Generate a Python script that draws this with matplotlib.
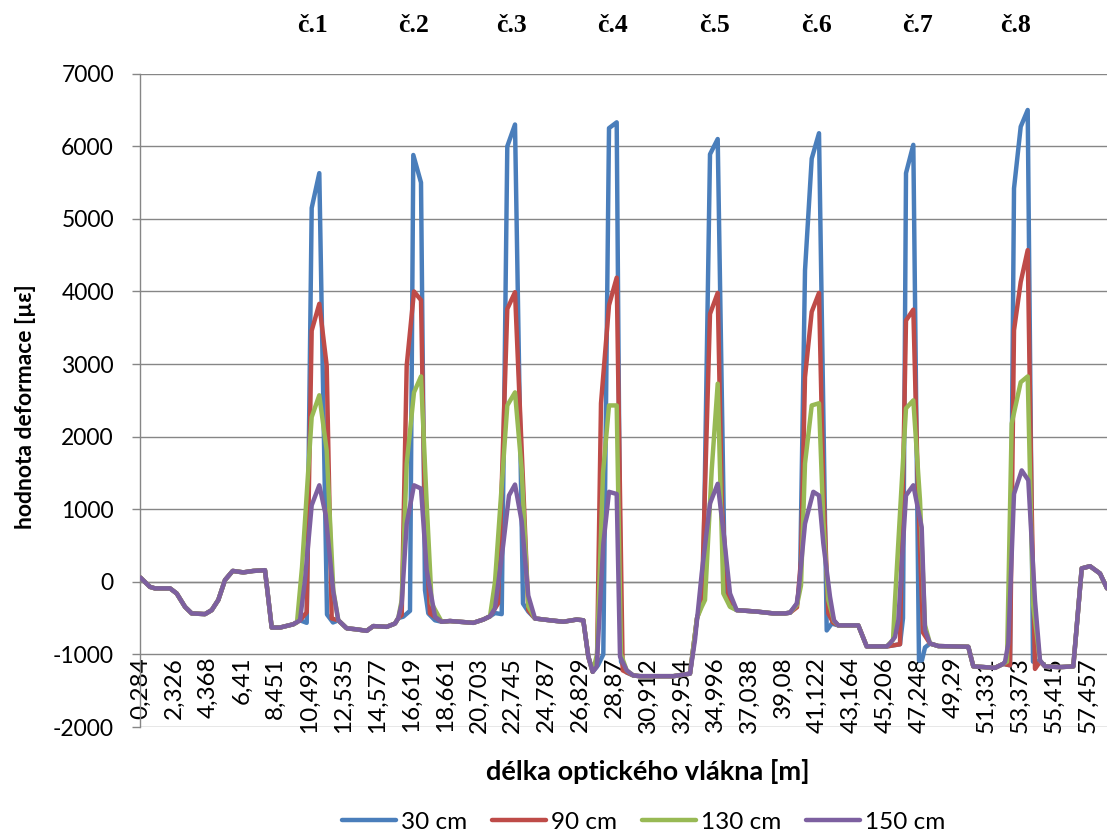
import matplotlib
matplotlib.use("Agg")
import matplotlib.pyplot as plt
from matplotlib.ticker import FixedLocator

plt.rcParams['font.family'] = ['Lato', 'DejaVu Sans']
plt.rcParams['axes.unicode_minus'] = False

# ---------------- data (distance in m, strain in µε) ----------------
series_names = ["30 cm", "90 cm", "130 cm", "150 cm"]
series_colors = ["#4A7EBB", "#BE4B48", "#98B954", "#7D60A0"]

tick_labels = ["0,284", "2,326", "4,368", "6,41", "8,451", "10,493", "12,535", "14,577",
               "16,619", "18,661", "20,703", "22,745", "24,787", "26,829", "28,87", "30,912",
               "32,954", "34,996", "37,038", "39,08", "41,122", "43,164", "45,206", "47,248",
               "49,29", "51,331", "53,373", "55,415", "57,457"]
tick_positions = [0.284 + 2.042 * i for i in range(len(tick_labels))]

peak_names = ["č.1", "č.2", "č.3", "č.4", "č.5", "č.6", "č.7", "č.8"]
peak_centres = [10.68, 16.77, 22.66, 28.75, 34.93, 41.05, 47.15, 53.1]

# common stretches between the loaded sections (all four curves overlap there)
gap_x = [
    [0.284, 0.869, 1.171, 2.076, 2.480, 2.981, 3.385, 4.188, 4.592, 4.990, 5.394, 5.859,
     6.498, 7.101, 7.807, 8.211, 8.712, 9.515],
    [12.229, 12.736, 13.339, 13.943, 14.341, 15.149, 15.650, 15.849],
    [18.467, 18.968, 20.374, 20.977, 21.382],
    [24.096, 25.001, 25.804, 26.612, 27.011, 27.312, 27.577],
    [30.027, 30.431, 32.440, 33.448],
    [36.265, 37.472, 38.473, 39.179, 39.481],
    [42.395, 43.601, 44.108, 45.315],
    [48.428, 50.238, 50.540, 51.848, 52.349],
    [54.865, 55.770, 56.572, 57.079, 57.580, 58.183, 58.605],
]
gap_y = [
    [60, -70, -90, -90, -160, -345, -435, -445, -390, -250, 25, 150, 130, 150, 160, -630, -630, -585],
    [-530, -640, -655, -675, -610, -620, -575, -500],
    [-550, -540, -565, -520, -475],
    [-505, -530, -550, -520, -530, -1030, -1240],
    [-1290, -1300, -1300, -1265],
    [-390, -410, -435, -435, -425],
    [-600, -600, -890, -890],
    [-885, -895, -1165, -1185, -1130],
    [-1165, -1175, -1165, 185, 215, 115, -90],
]

# 30 cm
blue_peak_x = [
    [9.919, 10.323, 10.624, 11.083, 11.548, 11.910],
    [16.151, 16.555, 16.754, 17.219, 17.460, 17.659, 18.063],
    [21.683, 22.087, 22.425, 22.890, 23.372, 23.692],
    [27.897, 28.217, 28.561, 29.025, 29.285, 29.629],
    [33.870, 34.232, 34.654, 35.119, 35.559, 35.861],
    [39.903, 40.084, 40.386, 40.790, 41.230, 41.695, 41.997],
    [46.117, 46.298, 46.479, 46.920, 47.263, 47.444, 47.625, 47.927],
    [52.753, 52.995, 53.399, 53.821, 54.141, 54.563],
]
blue_peak_y = [
    [-530, -565, 5150, 5630, -450, -560],
    [-480, -400, 5880, 5500, -115, -435, -530],
    [-430, -445, 6000, 6300, -300, -410],
    [-1150, -1000, 6250, 6330, -1100, -1250],
    [-500, -200, 5890, 6100, -160, -330],
    [-300, 0, 4290, 5830, 6180, -670, -575],
    [-860, -500, 5630, 6020, -1085, -1080, -905, -850],
    [-1150, 5420, 6270, 6500, -1100, -1085],
]

# 90 cm
red_peak_x = [
    [9.919, 10.323, 10.624, 11.083, 11.529, 11.831],
    [16.054, 16.356, 16.796, 17.219, 17.460, 17.761],
    [21.864, 22.425, 22.890, 23.391, 23.692],
    [27.837, 28.078, 28.561, 29.025, 29.387],
    [33.870, 34.154, 34.654, 35.119, 35.378, 35.758],
    [39.903, 40.144, 40.386, 40.790, 41.230, 41.490, 41.791, 42.075],
    [46.117, 46.479, 46.920, 47.221, 47.505, 47.927],
    [52.753, 52.995, 53.399, 53.821, 54.063, 54.262, 54.563],
]
red_peak_y = [
    [-530, -420, 3460, 3830, 2980, -505],
    [-460, 2980, 4000, 3880, 850, -435],
    [-300, 3760, 3990, 1290, -390],
    [-1100, 2460, 3810, 4190, -1220],
    [-500, -300, 3690, 3980, 1000, -200],
    [-350, 300, 2820, 3720, 3980, 1310, -435, -560],
    [-860, 3600, 3750, 1120, -700, -850],
    [-1150, 3465, 4130, 4570, 1000, -1200, -1100],
]

# 130 cm
green_peak_x = [
    [9.738, 10.040, 10.624, 11.083, 11.529, 11.928],
    [16.054, 16.356, 16.796, 17.219, 17.562, 17.864],
    [21.683, 22.425, 22.890, 23.294, 23.692],
    [27.837, 28.199, 28.561, 29.025, 29.285, 29.629],
    [33.870, 34.154, 34.353, 34.757, 35.119, 35.457, 35.861],
    [39.903, 40.144, 40.386, 40.790, 41.230, 41.490, 41.791, 42.135],
    [45.695, 45.815, 46.479, 46.920, 47.324, 47.625, 47.927],
    [52.572, 52.856, 53.399, 53.821, 54.141, 54.563],
]
green_peak_y = [
    [-560, 200, 2270, 2570, 1810, -115],
    [-250, 1630, 2610, 2830, 1080, -300],
    [0, 2430, 2610, 1540, -340],
    [-1000, 1500, 2430, 2430, -1000, -1220],
    [-500, -345, -250, 1540, 2730, -160, -345],
    [-320, -50, 1630, 2430, 2460, 850, -250, -540],
    [-800, -260, 2390, 2500, 1120, -600, -850],
    [-1100, 2180, 2750, 2830, -300, -1085],
]

# 150 cm
purple_peak_x = [
    [9.919, 10.220, 10.624, 11.083, 11.469, 11.928],
    [16.054, 16.356, 16.796, 17.219, 17.562, 18.063],
    [21.683, 22.184, 22.527, 22.890, 23.294, 23.692],
    [27.819, 28.217, 28.561, 29.025, 29.225, 29.629],
    [33.749, 34.154, 34.654, 35.119, 35.457, 35.861],
    [39.885, 39.981, 40.386, 40.887, 41.230, 41.490, 41.894, 42.135],
    [45.514, 45.815, 46.015, 46.479, 46.920, 47.426, 47.625, 47.927],
    [52.452, 52.651, 52.995, 53.459, 53.857, 54.262, 54.563],
]
purple_peak_y = [
    [-530, 25, 1055, 1330, 920, -140],
    [-300, 800, 1330, 1285, 160, -480],
    [-365, 520, 1190, 1340, 830, -190],
    [-1170, 520, 1240, 1210, -1030, -1220],
    [-800, 115, 1080, 1350, 710, -160],
    [-300, -160, 800, 1240, 1190, 530, -205, -530],
    [-850, -760, -530, 1190, 1330, 750, -665, -850],
    [-1100, -850, 1210, 1535, 1400, -260, -1085],
]

peak_x_all = [blue_peak_x, red_peak_x, green_peak_x, purple_peak_x]
peak_y_all = [blue_peak_y, red_peak_y, green_peak_y, purple_peak_y]


def assemble(px, py):
    xs, ys = list(gap_x[0]), list(gap_y[0])
    for k in range(len(px)):
        xs += px[k]
        ys += py[k]
        xs += gap_x[k + 1]
        ys += gap_y[k + 1]
    return xs, ys


# ---------------- figure ----------------
W, H = 1107, 834
fig = plt.figure(figsize=(W / 100, H / 100), dpi=100)
ax = fig.add_axes([140.3 / W, 1 - 727 / H, (W - 140.3) / W, (727 - 73.7) / H])

grid_c = "#868686"
for name, col, px, py in zip(series_names, series_colors, peak_x_all, peak_y_all):
    xs, ys = assemble(px, py)
    ax.plot(xs, ys, color=col, lw=3.2, label=name,
            solid_joinstyle="round", solid_capstyle="round", zorder=3)

ax.set_xlim(0.284, 58.605)
ax.set_ylim(-2000, 7000)
ax.set_yticks(range(-2000, 7001, 1000))
ax.yaxis.grid(True, color=grid_c, lw=1.0)
ax.set_axisbelow(True)

for s in ["top", "right"]:
    ax.spines[s].set_visible(False)
ax.spines["left"].set_color(grid_c)
ax.spines["left"].set_linewidth(1.0)
ax.spines["bottom"].set_position(("data", 0))
ax.spines["bottom"].set_color(grid_c)
ax.spines["bottom"].set_linewidth(1.0)

ax.tick_params(axis="y", direction="out", length=6, width=1.0, color=grid_c,
               pad=13, labelsize=16.5)
ax.xaxis.set_major_locator(FixedLocator(tick_positions))
ax.set_xticklabels(tick_labels)
ax.xaxis.set_minor_locator(FixedLocator(tick_positions[::2]))
ax.tick_params(axis="x", which="major", length=0, pad=54, labelsize=17.5, labelrotation=90)
ax.tick_params(axis="x", which="minor", direction="out", length=5.5, width=1.0, color=grid_c)

fig.text(647.5 / W, 1 - 772 / H, "délka optického vlákna [m]", ha="center", va="center",
         fontsize=19.5, fontweight="bold")
fig.text(26 / W, 1 - 407 / H, "hodnota deformace [µε]", ha="center", va="center",
         rotation=90, fontsize=16.5, fontweight="bold")

for nm, xc in zip(peak_names, peak_centres):
    ax.text(xc, 1.0 + (73.7 - 25) / (727 - 73.7), nm, transform=ax.get_xaxis_transform(),
            ha="center", va="center", fontsize=18.5, fontweight="bold",
            family=["Liberation Serif", "DejaVu Serif"])

fig.legend(loc="center", bbox_to_anchor=(644 / W, 1 - 822 / H), ncol=4, frameon=False,
           fontsize=17.5, handlelength=2.22, handletextpad=0.2, columnspacing=1.03,
           borderpad=0.1)

fig.savefig("out.png", dpi=100)
